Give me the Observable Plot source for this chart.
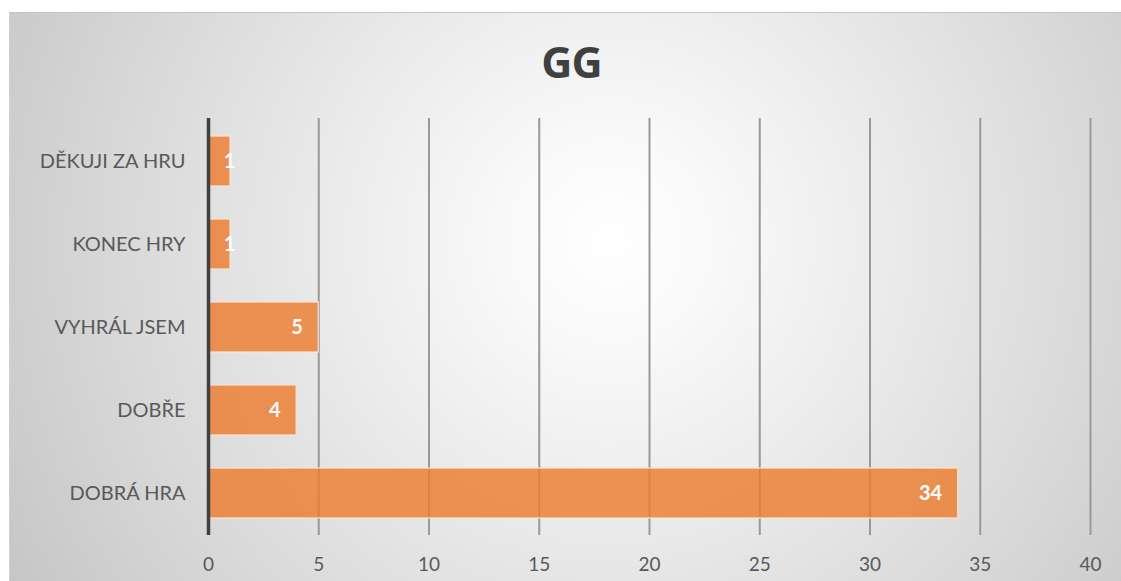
<!DOCTYPE html>
<html>
<head>
<meta charset="utf-8">
<script src="https://cdn.jsdelivr.net/npm/d3@7"></script>
<script src="https://cdn.jsdelivr.net/npm/@observablehq/plot@0.6"></script>
<style>
  html, body { margin: 0; padding: 0; background: #ffffff; }
  #frame {
    position: absolute; left: 9px; top: 12px; width: 1112px; height: 569px;
    overflow: hidden;
    border-top: 1px solid #c4c4c4; border-left: 1px solid #d0d0d0;
    box-sizing: border-box;
    background: radial-gradient(circle farthest-corner at 54% 40%, #ffffff 0%, #f9f9f9 15%, #eaeaea 42%, #d8d8d8 72%, #c6c6c6 100%);
    font-family: Lato, "Open Sans", sans-serif;
  }
  #title {
    position: absolute; left: 6px; top: 24px; width: 100%; text-align: center;
    font-family: "Open Sans", Lato, sans-serif; font-weight: 700; font-size: 43px;
    color: #404040; letter-spacing: -1px; line-height: 50px;
  }
  #chart { position: absolute; left: -1px; top: -1px; }
</style>
</head>
<body>
<div id="frame">
  <div id="title">GG</div>
  <div id="chart"></div>
</div>
<script>
const categories = ["DĚKUJI ZA HRU", "KONEC HRY", "VYHRÁL JSEM", "DOBŘE", "DOBRÁ HRA"];
const values = [1, 1, 5, 4, 34];
const xTicks = [0, 5, 10, 15, 20, 25, 30, 35, 40];

const data = categories.map((c, i) => ({category: c, value: values[i]}));

const chart = Plot.plot({
  width: 1112,
  height: 569,
  marginLeft: 199,
  marginRight: 31,
  marginTop: 106,
  marginBottom: 46,
  style: {background: "transparent", fontFamily: "Lato, 'Open Sans', sans-serif", color: "#595959"},
  x: {domain: [0, 40], ticks: xTicks, label: null},
  y: {domain: categories, paddingInner: 0.4, paddingOuter: 0.2, label: null},
  marks: [
    Plot.ruleX(xTicks.filter(t => t > 0), {stroke: "#999999", strokeWidth: 2}),
    Plot.barX(data, {y: "category", x: "value", fill: "#ED7D31", fillOpacity: 0.82, stroke: "#fbe5d6", strokeWidth: 1.5, strokeOpacity: 0.8}),
    Plot.ruleX([0], {stroke: "#404040", strokeWidth: 3.5}),
    Plot.axisX({ticks: xTicks, tickSize: 0, tickPadding: 22, fontSize: 19, fill: "#595959"}),
    Plot.axisY({tickSize: 0, tickPadding: 23, fontSize: 20, fill: "#595959"}),
    Plot.text(data.filter(d => d.value >= 2), {y: "category", x: "value", text: d => String(d.value), textAnchor: "end", dx: -16, fill: "white", fontWeight: "bold", fontSize: 20}),
    Plot.text(data.filter(d => d.value < 2), {y: "category", x: "value", text: d => String(d.value), textAnchor: "middle", dx: -1, fill: "white", fontWeight: "bold", fontSize: 20})
  ]
});
document.getElementById("chart").appendChild(chart);
</script>
</body>
</html>
